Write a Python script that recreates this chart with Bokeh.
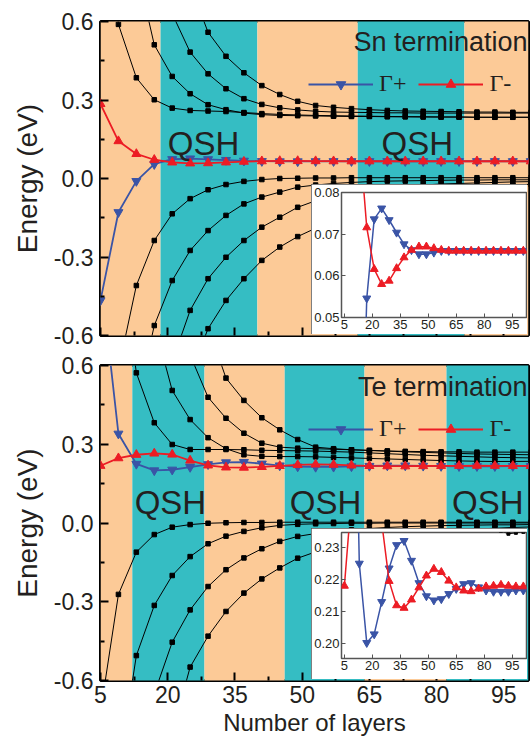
from bokeh.plotting import figure
from bokeh.models import (Range1d, FixedTicker, NumeralTickFormatter, Legend, LegendItem, Label,
                          CustomJSTickFormatter, Spacer)
from bokeh.layouts import column, row
from bokeh.embed import file_html
from bokeh.resources import INLINE

nan = float("nan")

layers = [5, 9, 13, 17, 21, 25, 29, 33, 37, 41, 45, 49, 53, 57, 61, 65, 69, 73, 77, 81, 85, 89, 93, 97, 101]

# ---------------- Sn termination ----------------
sn_band_edges = [5, 18.4, 40.0, 62.4, 86.2, 100.5]
sn_band_phase = ["trivial", "QSH", "trivial", "QSH", "trivial"]

sn_cond_1 = [1.3, 0.589, 0.385, 0.301, 0.269, 0.260, 0.258, 0.256, 0.252, 0.248, 0.245, 0.243, 0.241,
             0.240, 0.239, 0.238, 0.237, 0.236, 0.236, 0.235, 0.235, 0.234, 0.234, 0.234, 0.234]
sn_cond_2 = [nan, nan, 0.81, 0.511, 0.390, 0.324, 0.282, 0.263, 0.250, 0.244, 0.241, 0.240, 0.239,
             0.238, 0.237, 0.237, 0.236, 0.236, 0.235, 0.235, 0.235, 0.234, 0.234, 0.234, 0.234]
sn_cond_3 = [nan, nan, nan, nan, 0.63, 0.483, 0.400, 0.343, 0.305, 0.283, 0.270, 0.262, 0.257,
             0.254, 0.253, 0.252, 0.251, 0.251, 0.250, 0.250, 0.250, 0.250, 0.250, 0.250, 0.250]
sn_cond_4 = [nan, nan, nan, nan, nan, 0.74, 0.559, 0.467, 0.404, 0.355, 0.321, 0.295, 0.279,
             0.272, 0.267, 0.263, 0.260, 0.258, 0.257, 0.256, 0.255, 0.254, 0.254, 0.253, 0.253]
sn_val_1 = [nan, -0.73, -0.409, -0.237, -0.135, -0.077, -0.043, -0.023, -0.011, -0.004, 0.000, 0.001, 0.002,
            0.002, 0.003, 0.003, 0.003, 0.003, 0.003, 0.003, 0.003, 0.003, 0.003, 0.003, 0.003]
sn_val_2 = [nan, nan, -0.87, -0.562, -0.390, -0.275, -0.199, -0.141, -0.097, -0.071, -0.052, -0.033, -0.025,
            -0.019, -0.015, -0.012, -0.010, -0.009, -0.008, -0.007, -0.006, -0.006, -0.005, -0.005, -0.005]
sn_val_3 = [nan, nan, nan, nan, -0.70, -0.504, -0.383, -0.301, -0.237, -0.186, -0.148, -0.110, -0.085,
            -0.066, -0.052, -0.042, -0.035, -0.029, -0.025, -0.021, -0.019, -0.017, -0.015, -0.013, -0.012]
sn_val_4 = [nan, nan, nan, nan, nan, -0.75, -0.574, -0.466, -0.383, -0.313, -0.262, -0.222, -0.190,
            -0.160, -0.130, -0.105, -0.085, -0.070, -0.057, -0.047, -0.040, -0.034, -0.029, -0.025, -0.022]
sn_gamma_plus = [-0.466, -0.129, -0.010, 0.0546, 0.0736, 0.0762, 0.0734, 0.0704, 0.0676, 0.0662, 0.0652, 0.0652,
                 0.0656, 0.0660, 0.0660, 0.0660, 0.0660, 0.0660, 0.0660, 0.0660, 0.0660, 0.0660, 0.0660, 0.0660, 0.0660]
sn_gamma_minus = [0.285, 0.143, 0.094, 0.0716, 0.0616, 0.0580, 0.0588, 0.0618, 0.0644, 0.0662, 0.0670, 0.0670,
                  0.0666, 0.0662, 0.0660, 0.0660, 0.0660, 0.0660, 0.0660, 0.0660, 0.0660, 0.0660, 0.0660, 0.0660, 0.0660]

# ---------------- Te termination ----------------
te_band_edges = [5, 12.1, 28.2, 46.1, 63.9, 82.2, 100.5]
te_band_phase = ["trivial", "QSH", "trivial", "QSH", "trivial", "QSH"]

te_cond_1 = [nan, 1.1, 0.572, 0.382, 0.299, 0.280, 0.280, 0.280, 0.279, 0.277, 0.276, 0.275, 0.274,
             0.272, 0.270, 0.267, 0.264, 0.261, 0.258, 0.256, 0.254, 0.252, 0.250, 0.249, 0.248]
te_cond_2 = [nan, nan, nan, 0.76, 0.505, 0.394, 0.325, 0.283, 0.260, 0.254, 0.253, 0.253, 0.252,
             0.250, 0.248, 0.246, 0.244, 0.242, 0.240, 0.238, 0.2365, 0.2352, 0.2343, 0.2346, 0.2349]
te_cond_3 = [nan, nan, nan, nan, nan, 0.64, 0.479, 0.399, 0.342, 0.304, 0.289, 0.285, 0.283,
             0.281, 0.279, 0.277, 0.274, 0.271, 0.269, 0.267, 0.265, 0.263, 0.262, 0.261, 0.260]
te_cond_4 = [nan, nan, nan, nan, nan, nan, 0.75, 0.552, 0.467, 0.401, 0.355, 0.318, 0.289,
             0.283, 0.279, 0.276, 0.274, 0.273, 0.272, 0.271, 0.271, 0.270, 0.270, 0.270, 0.270]
te_val_1 = [-0.72, -0.272, -0.111, -0.044, -0.016, -0.006, -0.001, 0.001, 0.002, 0.002, 0.003, 0.003, 0.003,
            0.003, 0.003, 0.003, 0.003, 0.003, 0.003, 0.003, 0.003, 0.003, 0.003, 0.003, 0.003]
te_val_2 = [nan, -0.95, -0.505, -0.314, -0.200, -0.128, -0.079, -0.050, -0.032, -0.018, -0.009, -0.005, -0.003,
            -0.002, -0.001, -0.001, 0.000, 0.000, 0.000, 0.000, 0.000, 0.000, 0.000, 0.000, 0.000]
te_val_3 = [nan, nan, nan, -0.65, -0.454, -0.331, -0.242, -0.178, -0.133, -0.098, -0.070, -0.051, -0.040,
            -0.032, -0.026, -0.021, -0.017, -0.014, -0.012, -0.010, -0.009, -0.008, -0.007, -0.007, -0.006]
te_val_4 = [nan, nan, nan, nan, -0.80, -0.549, -0.431, -0.337, -0.267, -0.213, -0.171, -0.134, -0.110,
            -0.090, -0.075, -0.062, -0.052, -0.044, -0.037, -0.031, -0.027, -0.023, -0.020, -0.017, -0.015]
te_gamma_plus = [0.95, 0.340, 0.225, 0.2002, 0.2029, 0.2130, 0.2235, 0.2308, 0.2321, 0.2259, 0.2189, 0.2148,
                 0.2135, 0.2139, 0.2155, 0.2171, 0.2186, 0.2189, 0.2176, 0.2166, 0.2162, 0.2162, 0.2162, 0.2166, 0.2166]
te_gamma_minus = [0.218, 0.247, 0.260, 0.265, 0.261, 0.238, 0.2195, 0.2119, 0.2111, 0.2137, 0.2175, 0.2212,
                  0.2233, 0.2223, 0.2196, 0.2175, 0.2165, 0.2163, 0.2171, 0.2178, 0.2180, 0.2183, 0.2180, 0.2178, 0.2178]

# ticks
x_ticks = [5, 20, 35, 50, 65, 80, 95]
x_minor = [12.5, 27.5, 42.5, 57.5, 72.5, 87.5]
y_ticks = [-0.6, -0.3, 0.0, 0.3, 0.6]
y_minor = [-0.45, -0.15, 0.15, 0.45]
sn_inset_y_ticks = [0.05, 0.06, 0.07, 0.08]
te_inset_y_ticks = [0.20, 0.21, 0.22, 0.23]

# styles
ORANGE = "#FCCA97"
TEAL = "#35BDC3"
BLUE = "#3A54A6"
RED = "#EC1C24"
INK = "#231F20"
SANS = "Liberation Sans"
SERIF = "Liberation Serif"
PHASE_COLOR = {"trivial": ORANGE, "QSH": TEAL}


def style_main_axes(p, show_x_labels):
    p.grid.visible = False
    p.outline_line_color = "black"
    p.outline_line_width = 3
    for ax in (p.xaxis[0], p.yaxis[0]):
        ax.axis_line_color = None
        ax.major_tick_in = 8
        ax.major_tick_out = 0
        ax.minor_tick_in = 4
        ax.minor_tick_out = 0
        ax.major_tick_line_width = 2
        ax.minor_tick_line_width = 2
        ax.major_tick_line_color = "black"
        ax.minor_tick_line_color = "black"
        ax.major_label_text_font = SANS
        ax.major_label_text_color = INK
        ax.axis_label_text_font = SANS
        ax.axis_label_text_font_style = "normal"
        ax.axis_label_text_color = INK
    p.xaxis.ticker = FixedTicker(ticks=x_ticks, minor_ticks=x_minor)
    p.yaxis.ticker = FixedTicker(ticks=y_ticks, minor_ticks=y_minor)
    p.yaxis.formatter = NumeralTickFormatter(format="0.0")
    p.yaxis.major_label_text_font_size = "23px"
    p.yaxis.major_label_standoff = 7
    p.yaxis.axis_label = "Energy (eV)"
    p.yaxis.axis_label_text_font_size = "28px"
    p.yaxis.axis_label_standoff = 8
    if show_x_labels:
        p.xaxis.major_label_text_font_size = "23px"
        p.xaxis.major_label_standoff = 5
        p.xaxis.axis_label = "Number of layers"
        p.xaxis.axis_label_text_font_size = "24px"
        p.xaxis.axis_label_standoff = 3
    else:
        p.xaxis.formatter = CustomJSTickFormatter(code="return ''")
        p.xaxis.major_label_text_font_size = "1px"
        p.xaxis.major_label_standoff = 0


def add_curves(p, curves, lw, ms):
    for c in curves:
        p.line(layers, c, line_color="black", line_width=lw)
        p.scatter(layers, c, marker="square", size=ms, color="black")


def add_gamma(p, gp, gm, lw, ms):
    lb = p.line(layers, gp, line_color=BLUE, line_width=lw)
    sb = p.scatter(layers, gp, marker="inverted_triangle", size=ms, color=BLUE)
    lr = p.line(layers, gm, line_color=RED, line_width=lw)
    sr = p.scatter(layers, gm, marker="triangle", size=ms, color=RED)
    return (lb, sb), (lr, sr)


def main_panel(height, top_border, bottom_border, edges, phases, curves, gp, gm,
               show_x_labels, title, title_y, qsh_x, qsh_y):
    p = figure(width=532, height=height, x_range=Range1d(5, 100.5), y_range=Range1d(-0.6, 0.6),
               output_backend="svg", toolbar_location=None,
               min_border_left=100, min_border_right=4,
               min_border_top=top_border, min_border_bottom=bottom_border)
    p.quad(left=edges[:-1], right=edges[1:], bottom=-1, top=1,
           fill_color=[PHASE_COLOR[ph] for ph in phases], line_color=None)
    style_main_axes(p, show_x_labels)
    add_curves(p, curves, 1, 4.5)
    blue, red = add_gamma(p, gp, gm, 1.8, 9)
    for xq in qsh_x:
        p.add_layout(Label(x=xq, y=qsh_y, text="QSH", text_align="center",
                           text_baseline="alphabetic", text_font=SANS,
                           text_font_size="33px", text_color=INK))
    p.add_layout(Label(x=100.3, y=title_y, text=title, text_align="right",
                       text_baseline="alphabetic", text_font=SANS,
                       text_font_size="27px", text_color=INK))
    legend = Legend(items=[LegendItem(label="\u0393+", renderers=list(blue)),
                           LegendItem(label="\u0393-", renderers=list(red))],
                    orientation="horizontal", location=(208, 238),
                    background_fill_alpha=0, border_line_color=None,
                    glyph_width=65, glyph_height=24, label_standoff=6, spacing=12,
                    padding=0, margin=0, label_text_font=SERIF,
                    label_text_font_size="24px", label_text_color=INK)
    p.add_layout(legend)
    return p


def inset_panel(height, top_border, bottom_border, left_border, y_lo, y_hi, y_ticks_ins,
                curves, gp, gm):
    q = figure(width=216, height=height, x_range=Range1d(3.45, 102.7), y_range=Range1d(y_lo, y_hi),
               output_backend="svg", toolbar_location=None,
               min_border_left=left_border, min_border_right=1,
               min_border_top=top_border, min_border_bottom=bottom_border,
               styles={"outline": "1px solid #555555", "outline-offset": "-1px"})
    q.grid.visible = False
    q.background_fill_color = "white"
    q.border_fill_color = "white"
    q.outline_line_color = "#555555"
    q.outline_line_width = 1.5
    for ax in (q.xaxis[0], q.yaxis[0]):
        ax.axis_line_color = None
        ax.major_tick_in = 4
        ax.major_tick_out = 0
        ax.minor_tick_in = 0
        ax.minor_tick_out = 0
        ax.major_tick_line_color = "#555555"
        ax.major_label_text_font = SANS
        ax.major_label_text_font_size = "13px"
        ax.major_label_text_color = INK
        ax.major_label_standoff = 2
    q.xaxis.ticker = FixedTicker(ticks=x_ticks)
    q.yaxis.ticker = FixedTicker(ticks=y_ticks_ins)
    q.yaxis.formatter = NumeralTickFormatter(format="0.00")
    add_curves(q, curves, 1, 3)
    add_gamma(q, gp, gm, 1.5, 8)
    return q


sn_curves = [sn_cond_1, sn_cond_2, sn_cond_3, sn_cond_4, sn_val_1, sn_val_2, sn_val_3, sn_val_4]
te_curves = [te_cond_1, te_cond_2, te_cond_3, te_cond_4, te_val_1, te_val_2, te_val_3, te_val_4]

p_top = main_panel(350, 21, 15, sn_band_edges, sn_band_phase, sn_curves, sn_gamma_plus, sn_gamma_minus,
                   False, "Sn termination", 0.523, [28.0, 75.7], 0.133)
ins_top = inset_panel(150, 8, 17, 30, 0.05, 0.08, sn_inset_y_ticks, sn_curves,
                      sn_gamma_plus, sn_gamma_minus)
p_bot = main_panel(390, 15, 60, te_band_edges, te_band_phase, te_curves, te_gamma_plus, te_gamma_minus,
                   True, "Te termination", 0.520, [20.6, 55.2, 91.4], 0.079)
ins_bot = inset_panel(151, 4, 21, 29, 0.1953, 0.2347, te_inset_y_ticks, te_curves,
                      te_gamma_plus, te_gamma_minus)

row_top = row(Spacer(width=311, height=150), ins_top, margin=(-166, 0, 16, 0))
row_bot = row(Spacer(width=311, height=151), ins_bot, margin=(-212, 0, 61, 0))

layout = column(p_top, row_top, p_bot, row_bot)

open("out.html", "w").write(file_html(layout, INLINE))
